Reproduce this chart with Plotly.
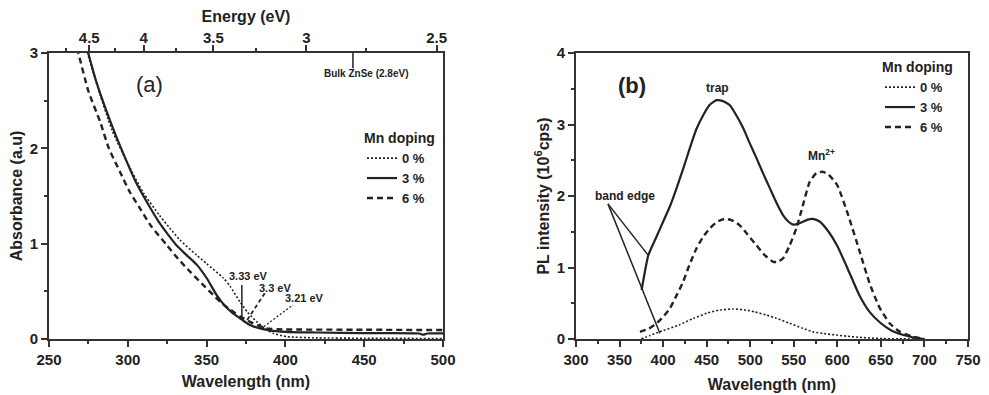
import plotly.graph_objects as go

# ---------------- Panel (a): absorbance ----------------
wl_a_0 = [273.5, 280, 290, 300, 310, 320, 326.8, 333, 343.7, 350, 360.6, 365, 371.2, 376, 381.8, 387, 392.3, 400.8, 420, 450, 500]
abs_0 = [3.05, 2.69, 2.19, 1.84, 1.53, 1.30, 1.16, 1.04, 0.88, 0.79, 0.64, 0.55, 0.39, 0.28, 0.18, 0.11, 0.06, 0.025, 0.012, 0.008, 0.005]

wl_a_3 = [273, 274.9, 280, 286.6, 293, 299.3, 305, 312, 320, 326, 331, 337, 343.7, 350, 356.4, 362, 366, 371.2, 376, 380, 383.9, 390, 400, 420, 450, 485, 487.5, 490, 500]
abs_3 = [3.12, 3.0, 2.7, 2.385, 2.11, 1.86, 1.65, 1.44, 1.22, 1.085, 0.98, 0.885, 0.78, 0.64, 0.46, 0.34, 0.28, 0.217, 0.16, 0.13, 0.112, 0.09, 0.075, 0.068, 0.062, 0.058, 0.045, 0.058, 0.058]

wl_a_6 = [266, 268.6, 275, 282.4, 288, 295, 301, 307.7, 315, 324.7, 332, 339.5, 347, 354.3, 360, 367, 372, 377.5, 383, 388.1, 395, 400, 450, 500]
abs_6 = [3.15, 3.0, 2.6, 2.28, 2.0, 1.755, 1.55, 1.37, 1.18, 0.986, 0.84, 0.706, 0.58, 0.46, 0.37, 0.286, 0.23, 0.18, 0.14, 0.11, 0.102, 0.10, 0.097, 0.094]

energy_ticks = [4.5, 4, 3.5, 3, 2.5]
energy_minor = [4.75, 4.25, 3.75, 3.25, 2.75]
bulk_energy = 2.8
edge_energies = [3.33, 3.3, 3.21]
edge_labels = ["3.33 eV", "3.3 eV", "3.21 eV"]

# ---------------- Panel (b): PL ----------------
wl_b_0 = [375, 385, 396, 419, 435, 450, 465, 480, 495, 505, 518.7, 530, 545, 560, 572, 585, 599, 612, 625.7, 640, 652, 670, 700]
pl_0 = [0.0, 0.05, 0.10, 0.20, 0.29, 0.36, 0.405, 0.42, 0.405, 0.38, 0.335, 0.29, 0.22, 0.15, 0.10, 0.075, 0.055, 0.038, 0.023, 0.012, 0.005, 0.002, 0.0]

wl_b_3 = [375.3, 383, 392, 400, 408, 415.5, 423, 430.7, 438, 446, 453, 461.3, 468, 476.6, 484, 491.9, 499, 507.2, 515, 522.5, 530, 537.8, 544, 549.3, 555, 560.7, 566, 572, 580, 590, 600, 612, 625, 637, 650, 662, 675, 688, 700]
pl_3 = [0.685, 1.17, 1.42, 1.64, 1.86, 2.11, 2.38, 2.67, 2.93, 3.13, 3.27, 3.34, 3.33, 3.27, 3.13, 2.95, 2.75, 2.53, 2.31, 2.11, 1.91, 1.73, 1.64, 1.60, 1.61, 1.64, 1.67, 1.68, 1.64, 1.50, 1.30, 0.98, 0.62, 0.38, 0.22, 0.12, 0.06, 0.02, 0.0]

wl_b_6 = [373.4, 383, 392.5, 400, 407.8, 415, 423, 430, 438.4, 446, 453.7, 462, 470.9, 479, 488, 497, 507.2, 516, 526.3, 532, 537.8, 545, 553, 560, 568.3, 576, 583, 590, 600, 612, 625, 637, 648, 660, 672, 685, 700]
pl_6 = [0.10, 0.14, 0.22, 0.31, 0.43, 0.60, 0.80, 1.03, 1.27, 1.43, 1.55, 1.64, 1.68, 1.66, 1.59, 1.46, 1.31, 1.18, 1.08, 1.08, 1.13, 1.30, 1.55, 1.85, 2.20, 2.32, 2.34, 2.30, 2.15, 1.75, 1.25, 0.78, 0.45, 0.22, 0.10, 0.04, 0.0]

series_names = ["0 %", "3 %", "6 %"]

# band-edge pointer: origin and targets (wavelength nm, intensity)
band_edge_origin = (336.7, 1.89)
band_edge_targets = [(383, 1.17), (396.3, 0.08)]

FONT = "Liberation Sans, Arial, sans-serif"
INK = "#222222"
AX = "#333333"
OFF = 8  # page body margin
W, H = 989 - OFF, 395 - OFF
ML = 49 - OFF
MT = 53 - OFF
MR = W - (968 - OFF)
MB = H - (339 - OFF)
PW, PH = W - ML - MR, H - MT - MB


def px_x(p):
    return (p - OFF - ML) / PW


def px_y(p):
    return (H - MB - (p - OFF)) / PH


styles = [dict(dash="2px,2px", width=1.6), dict(dash="solid", width=2.2), dict(dash="6px,4px", width=2.4)]

fig = go.Figure()
for wl, ys, nm, st in zip([wl_a_0, wl_a_3, wl_a_6], [abs_0, abs_3, abs_6], series_names, styles):
    fig.add_trace(go.Scatter(x=wl, y=ys, mode="lines", name=nm,
                             line=dict(color=INK, width=st["width"], dash=st["dash"], shape="spline", smoothing=0.6),
                             xaxis="x", yaxis="y", legend="legend"))
for wl, ys, nm, st in zip([wl_b_0, wl_b_3, wl_b_6], [pl_0, pl_3, pl_6], series_names, styles):
    fig.add_trace(go.Scatter(x=wl, y=ys, mode="lines", name=nm,
                             line=dict(color=INK, width=st["width"], dash=st["dash"], shape="spline", smoothing=0.5),
                             xaxis="x2", yaxis="y2", legend="legend2"))

# bulk ZnSe marker on the energy axis
lam_bulk = 1240.0 / bulk_energy
fig.add_trace(go.Scatter(x=[lam_bulk, lam_bulk], y=[3.0, 2.84], mode="lines", showlegend=False,
                         line=dict(color=INK, width=1.5), xaxis="x3", yaxis="y", hoverinfo="skip"))

# absorption edge pointers
lam_edges = [1240.0 / e for e in edge_energies]
fig.add_shape(type="line", xref="x", yref="y", x0=lam_edges[0], x1=lam_edges[0], y0=0.2, y1=0.567,
              line=dict(color=INK, width=1.5))
fig.add_shape(type="line", xref="x", yref="y", x0=lam_edges[1], x1=387, y0=0.2, y1=0.483,
              line=dict(color=INK, width=1.8, dash="4px,3px"))
fig.add_shape(type="line", xref="x", yref="y", x0=lam_edges[2], x1=404.8, y0=0.13, y1=0.357,
              line=dict(color=INK, width=1.3, dash="2px,2px"))
label_pos = [(376.9, 0.66), (393.4, 0.535), (412.4, 0.43)]
for (lx, ly), t in zip(label_pos, edge_labels):
    fig.add_annotation(x=lx, y=ly, xref="x", yref="y", text="<b>%s</b>" % t, showarrow=False,
                       font=dict(family=FONT, size=11, color=INK))

fig.add_annotation(x=lam_bulk, y=2.78, xref="x", yref="y", xshift=13, text="<b>Bulk ZnSe (2.8eV)</b>",
                   showarrow=False, font=dict(family=FONT, size=10, color=INK))
fig.add_annotation(x=314, y=2.665, xref="x", yref="y", text="(a)", showarrow=False,
                   font=dict(family=FONT, size=22, color=INK))

# panel b labels
for tx, ty in band_edge_targets:
    fig.add_shape(type="line", xref="x2", yref="y2", x0=band_edge_origin[0], y0=band_edge_origin[1],
                  x1=tx, y1=ty, line=dict(color=INK, width=1.5))
fig.add_annotation(x=356, y=2.0, xref="x2", yref="y2", text="<b>band edge</b>", showarrow=False,
                   font=dict(family=FONT, size=12, color=INK))
fig.add_annotation(x=462.8, y=3.51, xref="x2", yref="y2", text="<b>trap</b>", showarrow=False,
                   font=dict(family=FONT, size=12, color=INK))
fig.add_annotation(x=582, y=2.57, xref="x2", yref="y2", text="<b>Mn<sup>2+</sup></b>", showarrow=False,
                   font=dict(family=FONT, size=12, color=INK))
fig.add_annotation(x=364, y=3.54, xref="x2", yref="y2", text="<b>(b)</b>", showarrow=False,
                   font=dict(family=FONT, size=22, color=INK))

tickfont = dict(family=FONT, size=15, color=INK, weight="bold")
titlefont = dict(family=FONT, size=16, color=INK, weight="bold")
legtitle = dict(family=FONT, size=14, color=INK, weight="bold")
legfont = dict(family=FONT, size=13, color=INK, weight="bold")


def axis_common():
    return dict(showline=True, linewidth=2, linecolor=AX, mirror=True, ticks="outside", ticklen=6,
                tickwidth=2, tickcolor=AX, showgrid=False, zeroline=False, tickfont=tickfont, automargin=False)


fig.update_layout(
    width=W, height=H, autosize=False, margin=dict(l=ML, r=MR, t=MT, b=MB, autoexpand=False),
    paper_bgcolor="white", plot_bgcolor="white",
    xaxis=dict(domain=[0, px_x(443)], range=[250, 500], anchor="y", tickvals=[250, 300, 350, 400, 450, 500],
               minor=dict(dtick=25, tick0=250, ticks="outside", ticklen=3, tickwidth=2, tickcolor=AX),
               title=dict(text="Wavelength (nm)", font=titlefont, standoff=9), **axis_common()),
    yaxis=dict(domain=[0, 1], range=[0, 3], anchor="x", tickvals=[0, 1, 2, 3],
               minor=dict(dtick=0.5, tick0=0, ticks="outside", ticklen=3, tickwidth=2, tickcolor=AX),
               title=dict(text="Absorbance (a.u)", font=titlefont, standoff=3), **axis_common()),
    xaxis3=dict(overlaying="x", side="top", anchor="y", range=[250, 500], tickmode="array",
                tickvals=[1240.0 / e for e in energy_ticks], ticktext=[("%g" % e) for e in energy_ticks],
                minor=dict(tickmode="array", tickvals=[1240.0 / e for e in energy_minor], ticks="outside",
                           ticklen=3, tickwidth=2, tickcolor=AX),
                title=dict(text="Energy (eV)", font=titlefont, standoff=10), ticklabelstandoff=-4,
                showline=True, linewidth=2, linecolor=AX, ticks="outside", ticklen=6, tickwidth=2, tickcolor=AX,
                showgrid=False, zeroline=False, tickfont=tickfont, automargin=False),
    xaxis2=dict(domain=[px_x(576), 1], range=[300, 750], anchor="y2",
                tickvals=[300, 350, 400, 450, 500, 550, 600, 650, 700, 750],
                minor=dict(dtick=25, tick0=300, ticks="outside", ticklen=3, tickwidth=2, tickcolor=AX),
                title=dict(text="Wavelength (nm)", font=titlefont, standoff=12), **axis_common()),
    yaxis2=dict(domain=[0, 1], range=[0, 4], anchor="x2", tickvals=[0, 1, 2, 3, 4],
                minor=dict(dtick=0.5, tick0=0, ticks="outside", ticklen=3, tickwidth=2, tickcolor=AX),
                title=dict(text="PL intensity (10<sup>6</sup>cps)", font=titlefont, standoff=3), **axis_common()),
    legend=dict(x=px_x(362), y=px_y(125), xanchor="left", yanchor="top", bgcolor="rgba(0,0,0,0)",
                title=dict(text="Mn doping", font=legtitle), font=legfont, itemwidth=30, tracegroupgap=0),
    legend2=dict(x=px_x(880), y=px_y(54), xanchor="left", yanchor="top", bgcolor="rgba(0,0,0,0)",
                 title=dict(text="Mn doping", font=legtitle), font=legfont, itemwidth=30, tracegroupgap=0),
)

fig.write_html("out.html", config={"displayModeBar": False})
